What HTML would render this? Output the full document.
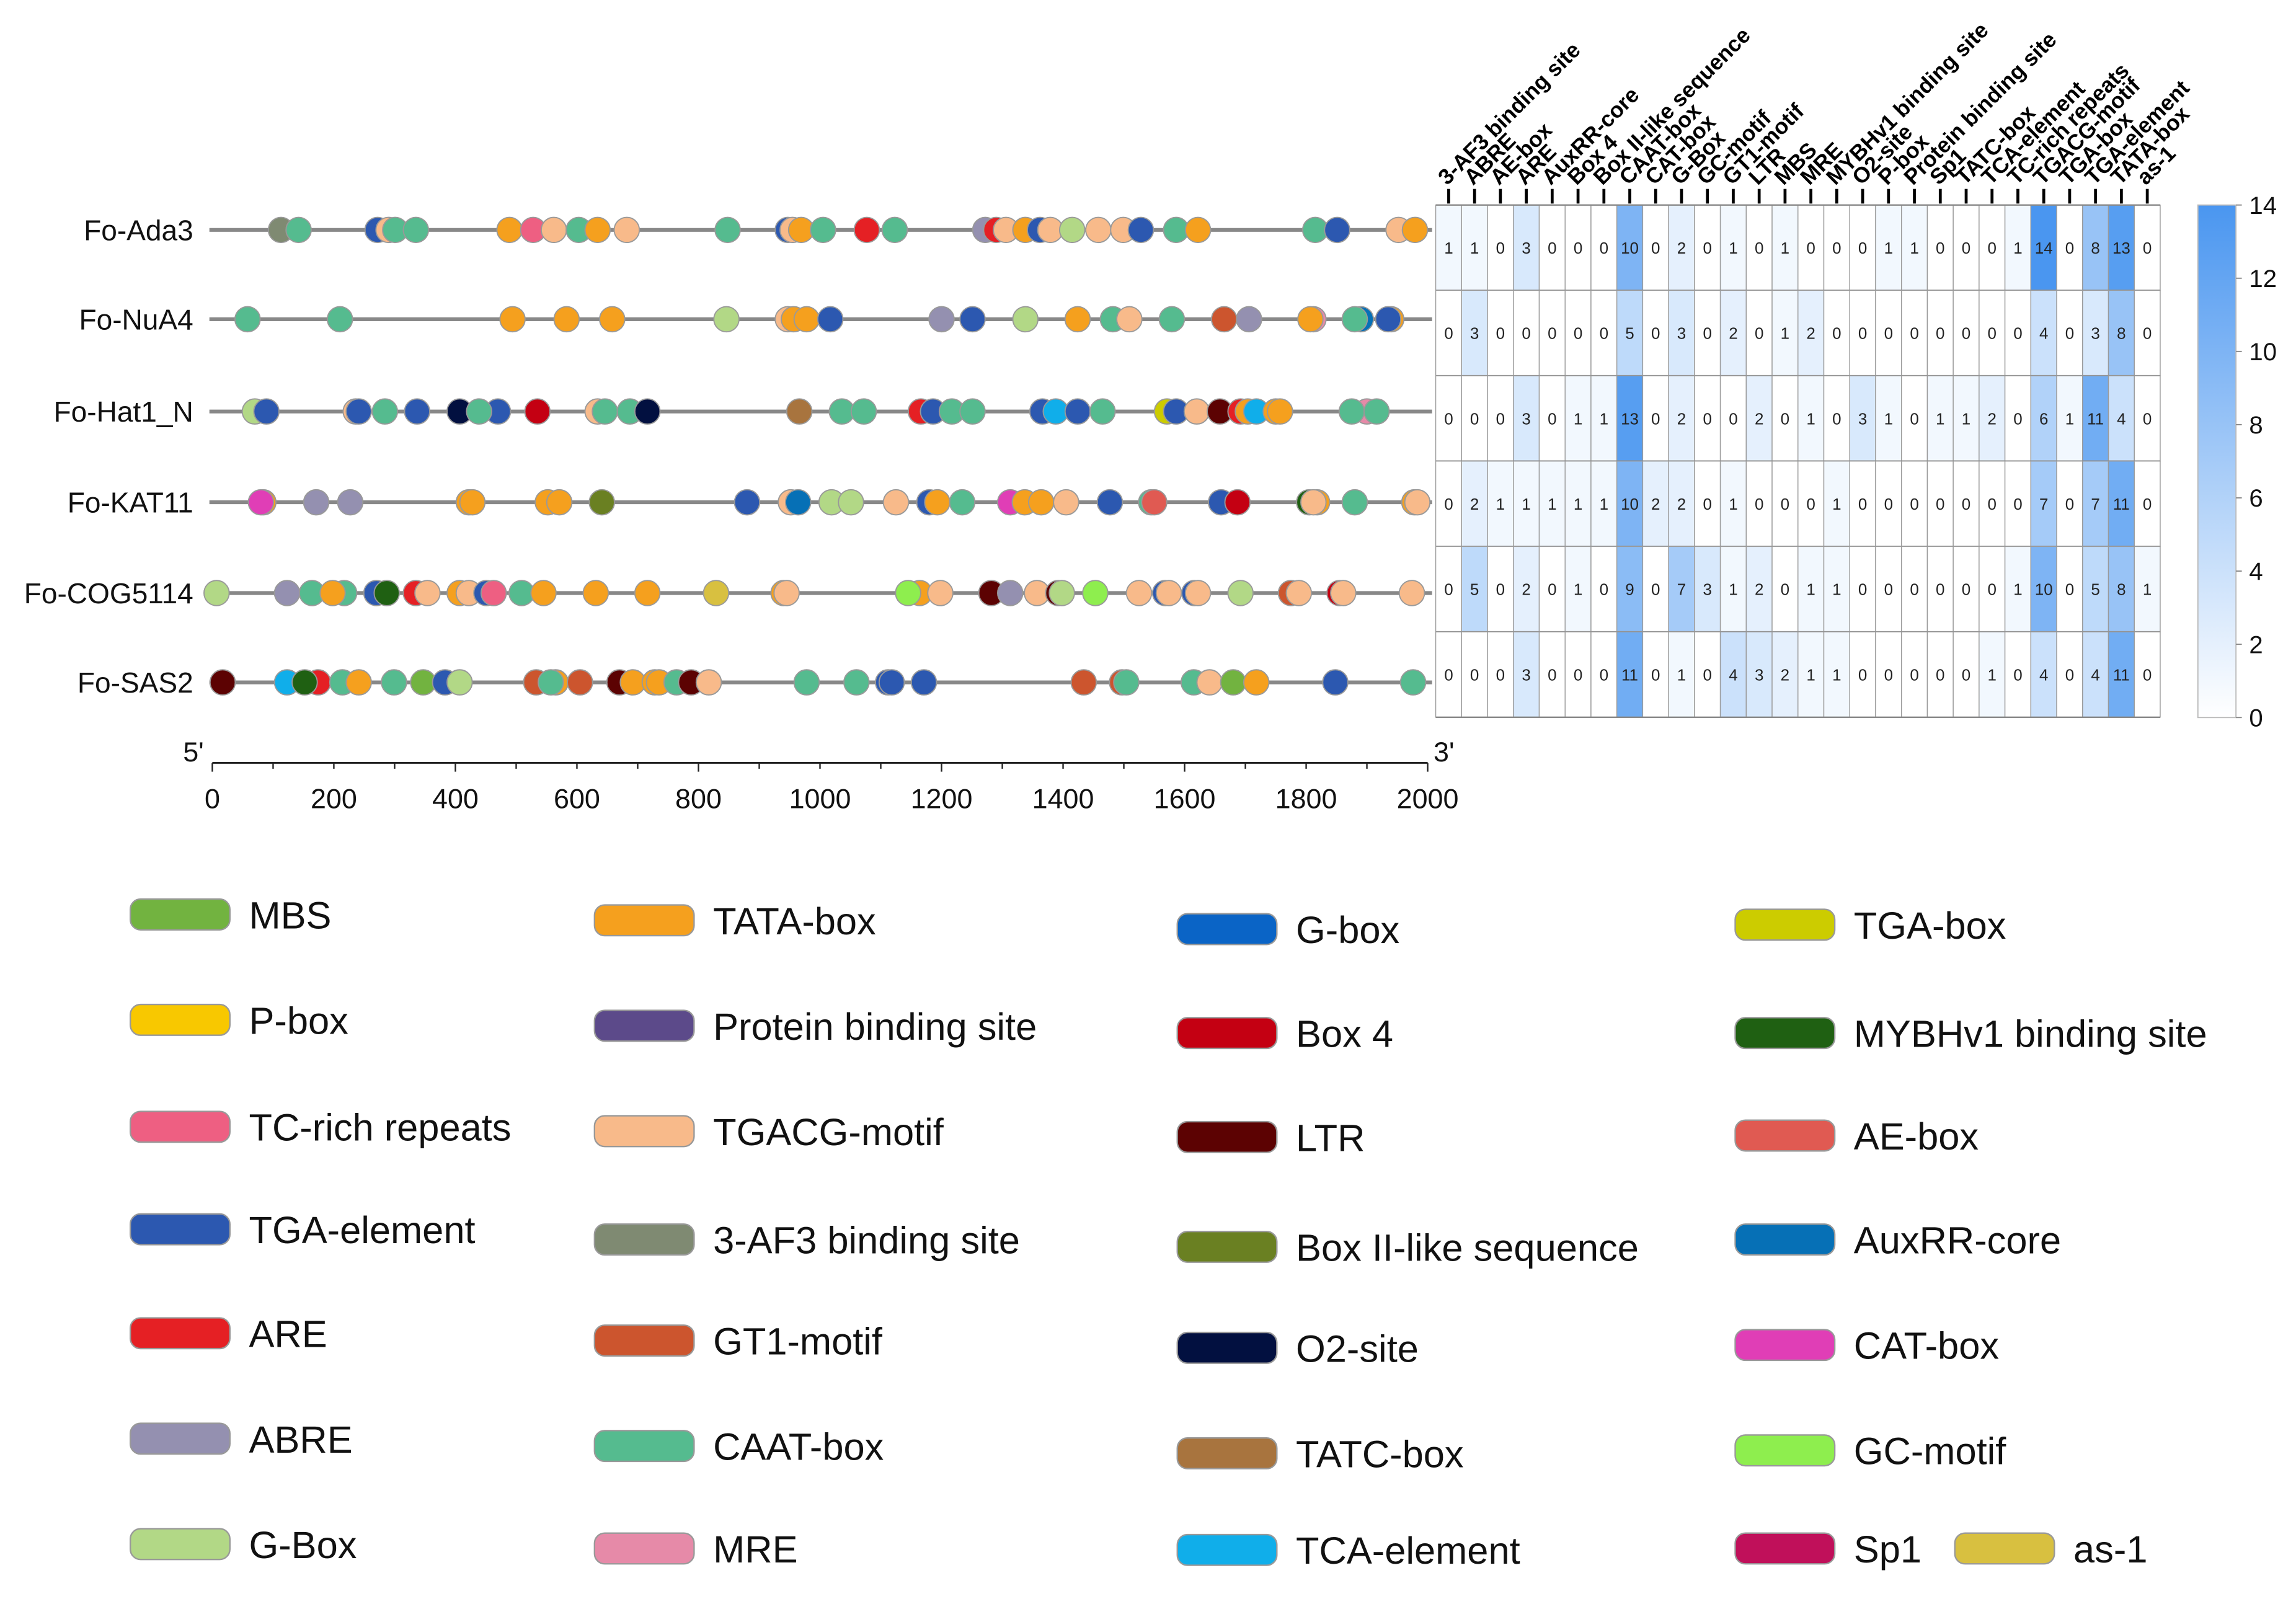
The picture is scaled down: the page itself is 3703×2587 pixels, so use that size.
<!DOCTYPE html>
<html><head><meta charset="utf-8"><style>
html,body{margin:0;padding:0;background:#fff}
svg{display:block;font-family:"Liberation Sans",Arial,sans-serif}
</style></head><body>
<svg id="fig" width="3703" height="2587" viewBox="0 0 1568 1095.4" xmlns="http://www.w3.org/2000/svg"></svg>
<script>
const genes=["Fo-Ada3","Fo-NuA4","Fo-Hat1_N","Fo-KAT11","Fo-COG5114","Fo-SAS2"];
const hm0=[1,1,0,3,0,0,0,10,0,2,0,1,0,1,0,0,0,1,1,0,0,0,1,14,0,8,13,0];
const hm1=[0,3,0,0,0,0,0,5,0,3,0,2,0,1,2,0,0,0,0,0,0,0,0,4,0,3,8,0];
const hm2=[0,0,0,3,0,1,1,13,0,2,0,0,2,0,1,0,3,1,0,1,1,2,0,6,1,11,4,0];
const hm3=[0,2,1,1,1,1,1,10,2,2,0,1,0,0,0,1,0,0,0,0,0,0,0,7,0,7,11,0];
const hm4=[0,5,0,2,0,1,0,9,0,7,3,1,2,0,1,1,0,0,0,0,0,0,1,10,0,5,8,1];
const hm5=[0,0,0,3,0,0,0,11,0,1,0,4,3,2,1,1,0,0,0,0,0,1,0,4,0,4,11,0];
const colLabels=["3-AF3 binding site","ABRE","AE-box","ARE","AuxRR-core","Box 4","Box II-like sequence","CAAT-box","CAT-box","G-Box","GC-motif","GT1-motif","LTR","MBS","MRE","MYBHv1 binding site","O2-site","P-box","Protein binding site","Sp1","TATC-box","TCA-element","TC-rich repeats","TGACG-motif","TGA-box","TGA-element","TATA-box","as-1"];
const cbTicks=[0,2,4,6,8,10,12,14];
const xTicks=[0,200,400,600,800,1000,1200,1400,1600,1800,2000];
const sites0=[["af3",113],["caat",142],["tgae",272],["tgacg",290],["caat",301],["caat",335],["tata",489],["tc",528],["tgacg",562],["caat",603],["tata",634],["tgacg",682],["caat",848],["tgae",947],["tgacg",955],["tata",969],["caat",1005],["are",1077],["caat",1123],["abre",1272],["are",1290],["tgacg",1306],["tata",1338],["tgae",1362],["tgacg",1379],["gbox",1415],["tgacg",1458],["tgacg",1499],["tgae",1528],["caat",1586],["tata",1622],["caat",1815],["tgae",1851],["tgacg",1952],["tata",1979]];
const sites1=[["caat",58],["caat",210],["tata",494],["tata",583],["tata",658],["gbox",846],["tgacg",947],["tata",957],["tata",978],["tgae",1017],["abre",1200],["tgae",1251],["gbox",1338],["tata",1424],["caat",1482],["tgacg",1509],["caat",1579],["gt1",1665],["abre",1706],["mre",1812],["tata",1807],["auxrr",1890],["caat",1880],["tata",1940],["tgae",1935]];
const sites2=[["gbox",70],["tgae",89],["tgacg",236],["tgae",241],["caat",284],["tgae",337],["o2",407],["tgae",470],["caat",439],["box4",535],["tgacg",634],["caat",646],["caat",687],["o2",716],["tatc",966],["caat",1036],["caat",1072],["are",1166],["tgae",1186],["caat",1217],["caat",1251],["tgae",1366],["tca",1388],["tgae",1424],["caat",1465],["tgabox",1571],["tgae",1586],["tgacg",1620],["ltr",1658],["are",1692],["tata",1704],["tca",1718],["tata",1750],["tata",1757],["mre",1900],["caat",1875],["caat",1916]];
const sites3=[["tata",84],["cat",80],["abre",171],["abre",227],["tata",422],["tata",428],["tata",552],["tata",571],["box2",641],["tgae",880],["tgacg",952],["auxrr",964],["gbox",1019],["gbox",1051],["tgacg",1125],["tgae",1180],["tata",1193],["caat",1234],["cat",1313],["tata",1337],["tata",1364],["tgacg",1405],["tgae",1477],["caat",1545],["ae",1550],["tgae",1660],["box4",1687],["mybhv1",1805],["tata",1818],["tgacg",1812],["caat",1880],["tata",1978],["tgacg",1983]];
const sites4=[["gbox",7],["abre",123],["caat",164],["caat",217],["tata",198],["tgae",270],["mybhv1",287],["are",335],["tgacg",354],["tata",407],["tgacg",422],["tgae",451],["tc",463],["caat",509],["tata",545],["tata",631],["tata",716],["asone",829],["tata",940],["tgacg",945],["tata",1164],["gc",1145],["tgacg",1198],["ltr",1282],["abre",1313],["tgacg",1357],["ltr",1392],["gbox",1398],["gc",1453],["tgacg",1525],["tgae",1568],["tgacg",1574],["tgae",1616],["tgacg",1622],["gbox",1692],["gt1",1775],["tgacg",1788],["box4",1855],["tgacg",1861],["tgacg",1974]];
const sites5=[["ltr",17],["tca",123],["are",174],["mybhv1",152],["caat",214],["tata",241],["caat",299],["mbs",347],["tgae",383],["gbox",407],["gt1",533],["tata",565],["caat",557],["gt1",605],["ltr",670],["tata",692],["tata",728],["tata",735],["caat",764],["ltr",788],["tgacg",817],["caat",978],["caat",1060],["tgae",1112],["tgae",1118],["tgae",1171],["gt1",1434],["gt1",1497],["caat",1504],["caat",1615],["tgacg",1641],["mbs",1680],["tata",1718],["tgae",1848],["caat",1976]];
const allSites=[sites0,sites1,sites2,sites3,sites4,sites5];
const allHeat=[hm0,hm1,hm2,hm3,hm4,hm5];
const colors={mbs:"#72b340",pbox:"#f8c800",tc:"#ee5f82",tgae:"#2c58b0",are:"#e52024",abre:"#9490b0",gbox:"#b2d886",tata:"#f5a01e",prot:"#5c4a8a",tgacg:"#f8ba8a",af3:"#7f8a72",gt1:"#cc552e",caat:"#55bb8f",mre:"#e68aa8",gboxl:"#0a64c6",box4:"#c40012",ltr:"#5c0202",box2:"#6a8022",o2:"#021040",tatc:"#a8743e",tca:"#10aeea",tgabox:"#cccc00",mybhv1:"#1f6012",ae:"#e05a52",auxrr:"#0670b6",cat:"#e03eb6",gc:"#8eee4e",sp1:"#c0105a",asone:"#d8c040"};
const legend=[
 [["mbs","MBS",625],["pbox","P-box",697],["tc","TC-rich repeats",770],["tgae","TGA-element",840],["are","ARE",911],["abre","ABRE",983],["gbox","G-Box",1055]],
 [["tata","TATA-box",629],["prot","Protein binding site",701],["tgacg","TGACG-motif",773],["af3","3-AF3 binding site",847],["gt1","GT1-motif",916],["caat","CAAT-box",988],["mre","MRE",1058]],
 [["gboxl","G-box",635],["box4","Box 4",706],["ltr","LTR",777],["box2","Box II-like sequence",852],["o2","O2-site",921],["tatc","TATC-box",993],["tca","TCA-element",1059]],
 [["tgabox","TGA-box",632],["mybhv1","MYBHv1 binding site",706],["ae","AE-box",776],["auxrr","AuxRR-core",847],["cat","CAT-box",919],["gc","GC-motif",991],["sp1","Sp1",1058]]
];
const NS="http://www.w3.org/2000/svg";
const svg=document.getElementById('fig');
function mk(tag,attrs,parent){const e=document.createElementNS(NS,tag);for(const k in attrs)e.setAttribute(k,attrs[k]);(parent||svg).appendChild(e);return e;}
const x0=145,x1=975,bpMax=2000;
const xs=bp=>x0+(bp/bpMax)*(x1-x0);
const rowY=[157,218,281,343,405,466];
genes.forEach((g,i)=>{
 const grp=mk('g',{});
 
 
 const t=mk('text',{x:132,y:rowY[i]+7,'text-anchor':'end','font-size':19.5,fill:'#111'},grp);t.textContent=g;
 
 
 const ln=mk('line',{x1:143,x2:978,y1:rowY[i],y2:rowY[i],stroke:'#888','stroke-width':2.6},grp);
 
 
 allSites[i].forEach(s=>{
  const c=mk('circle',{cx:xs(s[1]),cy:rowY[i],r:8.6,fill:colors[s[0]],stroke:'#999','stroke-width':0.8},grp);
  
  
 });
});
const ax=mk('g',{});


mk('line',{x1:x0,x2:x1,y1:521,y2:521,stroke:'#222','stroke-width':1.2},ax);
xTicks.forEach(v=>{
 mk('line',{x1:xs(v),x2:xs(v),y1:521,y2:v%400===0?527:525,stroke:'#222','stroke-width':1},ax);
 const t=mk('text',{x:xs(v),y:552,'text-anchor':'middle','font-size':19,fill:'#111'},ax);t.textContent=v;
 
 
});
for(let v=100;v<2000;v+=200){mk('line',{x1:xs(v),x2:xs(v),y1:521,y2:525,stroke:'#222','stroke-width':1},ax);}
let t5=mk('text',{x:125,y:520,'font-size':19,fill:'#111'},ax);t5.textContent="5'";


let t3=mk('text',{x:979,y:520,'font-size':19,fill:'#111'},ax);t3.textContent="3'";


const hx0=980.5,cw=17.67,hy0=140,rh=58.3;
const hm=mk('g',{});


function heatColor(v){const f=v/14;const r=Math.round(255+(74-255)*f),g=Math.round(255+(150-255)*f),b=Math.round(255+(240-255)*f);return `rgb(${r},${g},${b})`;}
allHeat.forEach((row,i)=>{
 row.forEach((v,j)=>{
  const r=mk('rect',{x:hx0+j*cw,y:hy0+i*rh,width:cw,height:rh,fill:heatColor(v),stroke:'#9a9a9a','stroke-width':0.6},hm);
  
  
  const t=mk('text',{x:hx0+j*cw+cw/2,y:hy0+i*rh+rh/2+4,'text-anchor':'middle','font-size':11,fill:'#222'},hm);t.textContent=v;
  
  
 });
 mk('line',{x1:hx0,x2:hx0+28*cw,y1:hy0+(i+1)*rh,y2:hy0+(i+1)*rh,stroke:'#888','stroke-width':1},hm);
});
mk('line',{x1:hx0,x2:hx0+28*cw,y1:hy0,y2:hy0,stroke:'#888','stroke-width':1},hm);
colLabels.forEach((lab,j)=>{
 const cx=hx0+j*cw+cw/2;
 mk('line',{x1:cx,x2:cx,y1:129,y2:139,stroke:'#000','stroke-width':2},hm);
 const t=mk('text',{x:0,y:0,'font-size':15,'font-weight':'bold',fill:'#000',transform:`translate(${cx-1},${127}) rotate(-45)`},hm);t.textContent=lab;
 
 
});
const defs=mk('defs',{});
const lg=mk('linearGradient',{id:'cb',x1:0,y1:1,x2:0,y2:0},defs);
mk('stop',{offset:0,'stop-color':'#ffffff'},lg);mk('stop',{offset:1,'stop-color':'#4a96f0'},lg);
const cb=mk('g',{});


const cby0=140,cby1=490;
mk('rect',{x:1501,y:cby0,width:26,height:cby1-cby0,fill:'url(#cb)',stroke:'#bbb','stroke-width':0.8},cb);
cbTicks.forEach(v=>{
 const y=cby1-(v/14)*(cby1-cby0);
 mk('line',{x1:1527,x2:1531,y1:y,y2:y,stroke:'#888','stroke-width':0.8},cb);
 const t=mk('text',{x:1536,y:y+6,'font-size':17,fill:'#111'},cb);t.textContent=v;
 
 
});
const lgx=[89,406,804,1185];
const lgG=mk('g',{});


legend.forEach((col,ci)=>{
 col.forEach(it=>{
  const g=mk('g',{},lgG);
  
  
  mk('rect',{x:lgx[ci],y:it[2]-11,width:68,height:21,rx:7,fill:colors[it[0]],stroke:'#999','stroke-width':1},g);
  const t=mk('text',{x:lgx[ci]+81,y:it[2]+9,'font-size':26,fill:'#111'},g);t.textContent=it[1];
 });
});
const ag=mk('g',{},lgG);


mk('rect',{x:1335,y:1047,width:68,height:21,rx:7,fill:colors.asone,stroke:'#999','stroke-width':1},ag);
const at=mk('text',{x:1416,y:1067,'font-size':26,fill:'#111'},ag);at.textContent="as-1";
</script>
</body></html>
